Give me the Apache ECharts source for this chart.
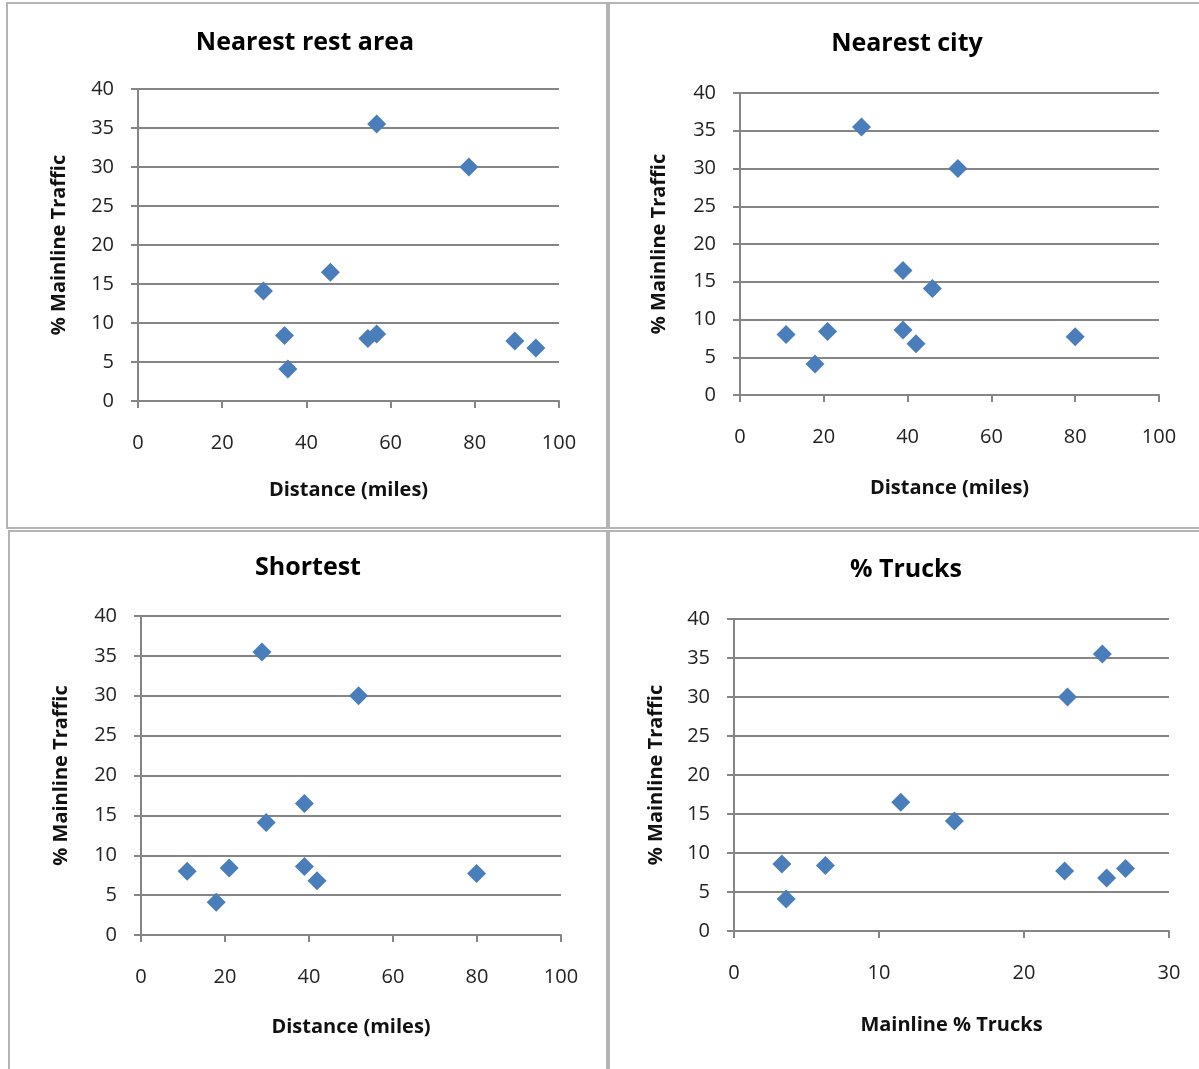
<!DOCTYPE html>
<html>
<head>
<meta charset="utf-8">
<script src="https://cdn.jsdelivr.net/npm/echarts@6/dist/echarts.min.js"></script>
<style>
html,body{margin:0;padding:0;background:#fff;}
#main{width:1199px;height:1069px;}
</style>
</head>
<body>
<div id="main"></div>
<script>
// % Mainline Traffic (shared y values, one per site)
const mainlineTraffic = [35.5, 30.0, 16.5, 14.1, 8.6, 8.4, 8.0, 7.7, 6.8, 4.1];
// x values per panel
const restAreaDist = [56.7, 78.6, 45.7, 29.8, 56.7, 34.8, 54.6, 89.5, 94.5, 35.6];
const cityDist     = [29.0, 52.0, 38.9, 45.9, 38.9, 20.9, 11.0, 80.0, 42.0, 17.9];
const shortestDist = [28.8, 51.8, 38.9, 29.8, 38.9, 21.0, 11.0, 79.9, 41.9, 17.9];
const trucksPct    = [25.4, 23.0, 11.5, 15.2, 3.3, 6.3, 27.0, 22.8, 25.7, 3.6];

const panelTitles = ['Nearest rest area', 'Nearest city', 'Shortest', '% Trucks'];
const xNames = ['Distance (miles)', 'Distance (miles)', 'Distance (miles)', 'Mainline % Trucks'];
const yName = '% Mainline Traffic';
const xMaxes = [100, 100, 100, 30];
const xIntervals = [20, 20, 20, 10];
const xSeries = [restAreaDist, cityDist, shortestDist, trucksPct];

const FONT = 'Open Sans';
const grids = [
  {left: 138, top: 89, width: 421, height: 312},
  {left: 740, top: 93, width: 419, height: 302},
  {left: 141, top: 616, width: 420, height: 319},
  {left: 734, top: 619, width: 435, height: 312}
];
const titlePos = [[305, 30], [907, 31], [308, 555], [906, 557]];
const xNameGap = [79, 83, 82, 84];
const yNameGap = [69, 71, 70, 68];

const gridColor = '#858585';

const option = {
  animation: false,
  backgroundColor: '#fff',
  textStyle: {fontFamily: FONT},
  title: panelTitles.map((t, i) => ({
    text: t,
    left: titlePos[i][0], top: titlePos[i][1],
    textAlign: 'center', padding: 0,
    textStyle: {fontFamily: FONT, fontSize: 25, fontWeight: 'bold', color: '#000'}
  })),
  grid: grids.map(g => Object.assign({containLabel: false}, g)),
  xAxis: grids.map((g, i) => ({
    gridIndex: i, type: 'value', min: 0, max: xMaxes[i], interval: xIntervals[i],
    name: xNames[i], nameLocation: 'middle', nameGap: xNameGap[i],
    nameTextStyle: {fontFamily: FONT, fontSize: 20, fontWeight: 'bold', color: '#111'},
    axisLine: {show: true, lineStyle: {color: gridColor, width: 2}},
    axisTick: {show: true, length: 7, lineStyle: {color: gridColor, width: 2}},
    axisLabel: {fontFamily: FONT, fontSize: 20, color: '#222', margin: 32},
    splitLine: {show: false}
  })),
  yAxis: grids.map((g, i) => ({
    gridIndex: i, type: 'value', min: 0, max: 40, interval: 5,
    name: yName, nameLocation: 'middle', nameGap: yNameGap[i], nameRotate: 90,
    nameTextStyle: {fontFamily: FONT, fontSize: 20, fontWeight: 'bold', color: '#111'},
    axisLine: {show: true, lineStyle: {color: gridColor, width: 2}},
    axisTick: {show: true, length: 7, lineStyle: {color: gridColor, width: 2}},
    axisLabel: {fontFamily: FONT, fontSize: 20, color: '#222', margin: 24},
    splitLine: {show: true, lineStyle: {color: gridColor, width: 2}}
  })),
  series: xSeries.map((xs, i) => ({
    type: 'scatter', xAxisIndex: i, yAxisIndex: i,
    symbol: 'diamond', symbolSize: [19, 19],
    itemStyle: {color: '#4a7ebb', opacity: 1},
    data: xs.map((x, k) => [x, mainlineTraffic[k]])
  })),
  graphic: [
    {type: 'rect', shape: {x: 7, y: 3, width: 600, height: 525}, style: {fill: null, stroke: '#b4b4b4', lineWidth: 2}, z: -1},
    {type: 'rect', shape: {x: 609, y: 3, width: 600, height: 525}, style: {fill: null, stroke: '#b4b4b4', lineWidth: 2}, z: -1},
    {type: 'rect', shape: {x: 9, y: 531, width: 598, height: 545}, style: {fill: null, stroke: '#b4b4b4', lineWidth: 2}, z: -1},
    {type: 'rect', shape: {x: 609, y: 531, width: 600, height: 545}, style: {fill: null, stroke: '#b4b4b4', lineWidth: 2}, z: -1}
  ]
};

const chart = echarts.init(document.getElementById('main'), null, {renderer: 'canvas'});
chart.setOption(option);
</script>
</body>
</html>
